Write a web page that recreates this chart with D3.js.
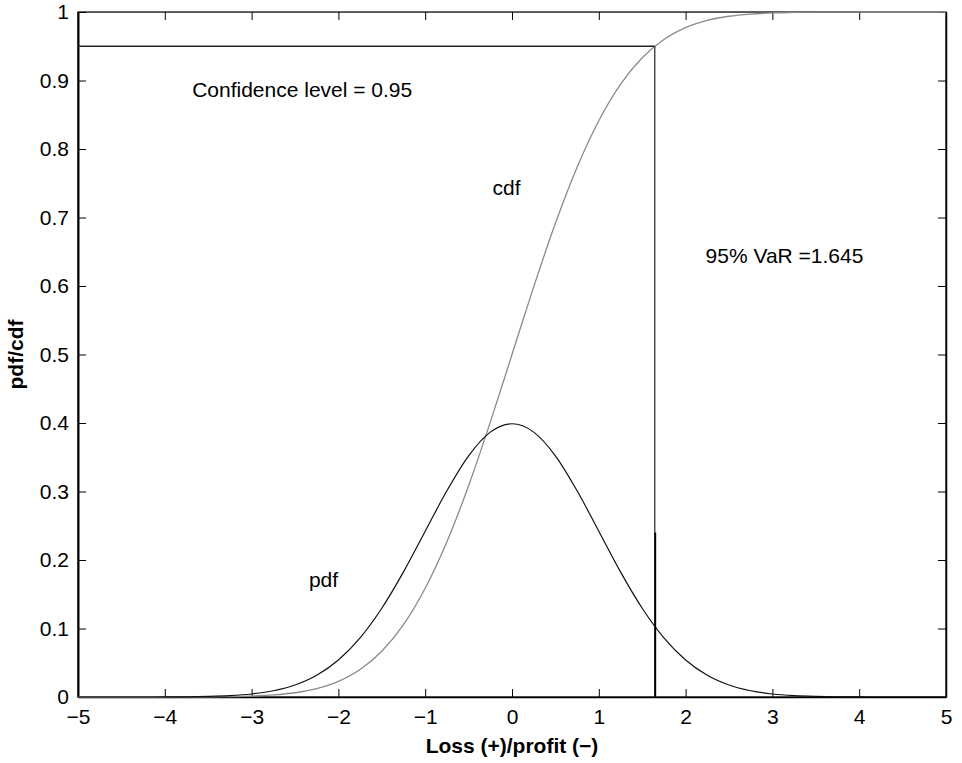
<!DOCTYPE html>
<html>
<head>
<meta charset="utf-8">
<script src="https://cdn.jsdelivr.net/npm/d3@7"></script>
<style>
  html, body { margin: 0; padding: 0; background: #fff; }
  svg text { font-family: "Liberation Sans", Arial, Helvetica, sans-serif; fill: #000; }
</style>
</head>
<body>
<svg id="chart" width="962" height="763"></svg>
<script>
// Loss/profit grid and the two curves sampled on it
const xs = [-5, -4.75, -4.5, -4.25, -4, -3.75, -3.5, -3.25, -3, -2.75, -2.5, -2.25, -2, -1.75, -1.5, -1.25, -1, -0.75, -0.5, -0.25,
            0, 0.25, 0.5, 0.75, 1, 1.25, 1.5, 1.75, 2, 2.25, 2.5, 2.75, 3, 3.25, 3.5, 3.75, 4, 4.25, 4.5, 4.75, 5];
const pdfValues = [0.0000, 0.0000, 0.0000, 0.0000, 0.0001, 0.0004, 0.0009, 0.0020, 0.0044, 0.0091, 0.0175, 0.0317, 0.0540, 0.0863, 0.1295, 0.1826, 0.2420, 0.3011, 0.3521, 0.3867,
                   0.3989, 0.3867, 0.3521, 0.3011, 0.2420, 0.1826, 0.1295, 0.0863, 0.0540, 0.0317, 0.0175, 0.0091, 0.0044, 0.0020, 0.0009, 0.0004, 0.0001, 0.0000, 0.0000, 0.0000, 0.0000];
const cdfValues = [0.0000, 0.0000, 0.0000, 0.0000, 0.0000, 0.0001, 0.0002, 0.0006, 0.0013, 0.0030, 0.0062, 0.0122, 0.0228, 0.0401, 0.0668, 0.1056, 0.1587, 0.2266, 0.3085, 0.4013,
                   0.5000, 0.5987, 0.6915, 0.7734, 0.8413, 0.8944, 0.9332, 0.9599, 0.9772, 0.9878, 0.9938, 0.9970, 0.9987, 0.9994, 0.9998, 0.9999, 1.0000, 1.0000, 1.0000, 1.0000, 1.0000];

const confidenceLevel = 0.95;
const varValue = 1.645;
const varPdfMark = 0.24;

const xTicks = [-5, -4, -3, -2, -1, 0, 1, 2, 3, 4, 5];
const xTickLabels = ["\u22125", "\u22124", "\u22123", "\u22122", "\u22121", "0", "1", "2", "3", "4", "5"];
const yTicks = [0, 0.1, 0.2, 0.3, 0.4, 0.5, 0.6, 0.7, 0.8, 0.9, 1];
const yTickLabels = ["0", "0.1", "0.2", "0.3", "0.4", "0.5", "0.6", "0.7", "0.8", "0.9", "1"];

const annotations = [
  { text: "Confidence level = 0.95", x: -3.685, y: 0.876 },
  { text: "cdf", x: -0.225, y: 0.733 },
  { text: "95% VaR =1.645", x: 2.23, y: 0.633 },
  { text: "pdf", x: -2.34, y: 0.161 }
];

const svg = d3.select("#chart");
const margin = { left: 78, top: 12, right: 16, bottom: 66 };
const W = 962, H = 763;
const x = d3.scaleLinear().domain([-5, 5]).range([margin.left, W - margin.right]);
const y = d3.scaleLinear().domain([0, 1]).range([H - margin.bottom, margin.top]);

const tickLen = 8;
const fontSize = 21;

// Frame
svg.append("rect")
  .attr("x", x(-5)).attr("y", y(1))
  .attr("width", x(5) - x(-5)).attr("height", y(0) - y(1))
  .attr("fill", "none").attr("stroke", "#000").attr("stroke-width", 1.2);

// Bottom axis with inward ticks
const xAxis = svg.append("g")
  .attr("transform", `translate(0,${y(0)})`)
  .call(d3.axisBottom(x).tickValues(xTicks).tickSizeInner(-tickLen).tickSizeOuter(0)
        .tickPadding(12).tickFormat((d, i) => xTickLabels[i]));
xAxis.select(".domain").attr("stroke", "#000").attr("stroke-width", 1.5);
xAxis.selectAll("text").attr("font-size", fontSize).attr("font-family", "Liberation Sans, Arial, sans-serif");
xAxis.selectAll(".tick line").attr("stroke", "#000");

// Top ticks
svg.append("g")
  .attr("transform", `translate(0,${y(1)})`)
  .call(d3.axisTop(x).tickValues(xTicks).tickSizeInner(-tickLen).tickSizeOuter(0).tickFormat(""))
  .call(g => g.select(".domain").attr("stroke", "#555"));

// Left axis with inward ticks
const yAxis = svg.append("g")
  .attr("transform", `translate(${x(-5)},0)`)
  .call(d3.axisLeft(y).tickValues(yTicks).tickSizeInner(-tickLen).tickSizeOuter(0)
        .tickPadding(9).tickFormat((d, i) => yTickLabels[i]));
yAxis.select(".domain").attr("stroke", "#000").attr("stroke-width", 2);
yAxis.selectAll("text").attr("font-size", fontSize).attr("font-family", "Liberation Sans, Arial, sans-serif");
yAxis.selectAll(".tick line").attr("stroke", "#000");

// Right ticks
svg.append("g")
  .attr("transform", `translate(${x(5)},0)`)
  .call(d3.axisRight(y).tickValues(yTicks).tickSizeInner(-tickLen).tickSizeOuter(0).tickFormat(""))
  .call(g => g.select(".domain").attr("stroke", "#000").attr("stroke-width", 1.5));

// Curves
const line = d3.line().curve(d3.curveMonotoneX);
const cdfPts = xs.map((v, i) => [x(v), y(cdfValues[i])]);
const pdfPts = xs.map((v, i) => [x(v), y(pdfValues[i])]);

svg.append("path").attr("d", line(cdfPts))
  .attr("fill", "none").attr("stroke", "#8a8a8a").attr("stroke-width", 1.3);
svg.append("path").attr("d", line(pdfPts))
  .attr("fill", "none").attr("stroke", "#111").attr("stroke-width", 1.2);

// VaR guide lines
svg.append("line")
  .attr("x1", x(-5)).attr("x2", x(varValue))
  .attr("y1", y(confidenceLevel)).attr("y2", y(confidenceLevel))
  .attr("stroke", "#222").attr("stroke-width", 1.3);
svg.append("line")
  .attr("x1", x(varValue)).attr("x2", x(varValue))
  .attr("y1", y(0)).attr("y2", y(confidenceLevel))
  .attr("stroke", "#333").attr("stroke-width", 1.3);
svg.append("line")
  .attr("x1", x(varValue) + 0.5).attr("x2", x(varValue) + 0.5)
  .attr("y1", y(0)).attr("y2", y(varPdfMark))
  .attr("stroke", "#000").attr("stroke-width", 1.8);

// Annotations
svg.selectAll("text.note").data(annotations).join("text")
  .attr("class", "note")
  .attr("x", d => x(d.x)).attr("y", d => y(d.y))
  .attr("font-size", fontSize)
  .text(d => d.text);

// Axis titles
svg.append("text")
  .attr("x", (x(-5) + x(5)) / 2).attr("y", 753)
  .attr("text-anchor", "middle").attr("font-size", fontSize).attr("font-weight", "bold")
  .text("Loss (+)/profit (\u2212)");
svg.append("text")
  .attr("transform", `translate(23,${(y(0) + y(1)) / 2}) rotate(-90)`)
  .attr("text-anchor", "middle").attr("font-size", fontSize).attr("font-weight", "bold")
  .text("pdf/cdf");
</script>
</body>
</html>
